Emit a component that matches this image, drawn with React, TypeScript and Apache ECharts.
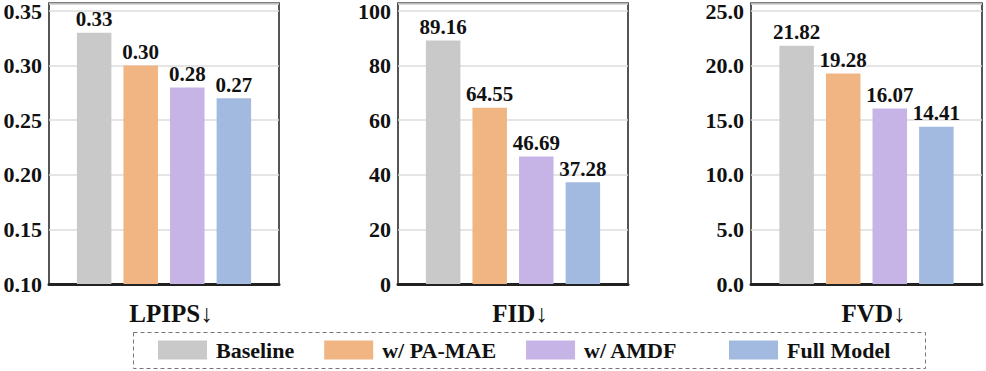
import React, { useEffect, useRef } from "react";
import * as echarts from "echarts";

const methods = ["Baseline", "w/ PA-MAE", "w/ AMDF", "Full Model"];
const colors = ["#c9c9c9", "#f0b583", "#c6b4e7", "#a3bae0"];
const metrics = ["LPIPS↓", "FID↓", "FVD↓"];
const lpipsValues = [0.33, 0.3, 0.28, 0.27];
const fidValues = [89.16, 64.55, 46.69, 37.28];
const fvdValues = [21.82, 19.28, 16.07, 14.41];
const allValues = [lpipsValues, fidValues, fvdValues];
const yMins = [0.1, 0, 0];
const yMaxs = [0.357, 102.8, 25.7];
const yIntervals = [0.05, 20, 5];
const yDecimals = [2, 0, 1];

const FONT = "Liberation Serif";

export default function App() {
  const ref = useRef<HTMLDivElement>(null);
  useEffect(() => {
    if (!ref.current) return;
    const chart = echarts.init(ref.current, undefined, { renderer: "svg" });
    const grids = [
      { left: 49, top: 3, width: 230, height: 281 },
      { left: 398, top: 3, width: 230, height: 281 },
      { left: 751, top: 3, width: 231, height: 281 },
    ];
    const series: any[] = [];
    allValues.forEach((vals, gi) => {
      methods.forEach((m, si) => {
        series.push({
          type: "bar",
          name: m,
          xAxisIndex: gi,
          yAxisIndex: gi,
          data: [vals[si]],
          barWidth: 34.5,
          barGap: "35%",
          itemStyle: { color: colors[si] },
          label: {
            show: true,
            position: "top",
            distance: 3,
            fontFamily: FONT,
            fontWeight: "bold",
            fontSize: 21,
            color: "#111",
            formatter: (p: any) => Number(p.value).toFixed(2),
          },
        });
      });
    });
    const legendText = {
      fontFamily: FONT,
      fontWeight: "bold",
      fontSize: 22,
      color: "#111",
      padding: [0, 0, 0, 4],
    };
    chart.setOption({
      animation: false,
      backgroundColor: "#fff",
      grid: grids.map((g) => ({
        ...g,
        show: true,
        borderColor: "#555",
        borderWidth: 2,
        backgroundColor: "transparent",
        containLabel: false,
      })),
      xAxis: metrics.map((name, gi) => ({
        type: "category",
        gridIndex: gi,
        data: [""],
        name,
        nameLocation: "middle",
        nameGap: 17,
        nameTextStyle: {
          fontFamily: FONT,
          fontWeight: "bold",
          fontSize: 25,
          color: "#111",
          padding: [0, 0, 0, 14],
        },
        axisLine: { show: true, lineStyle: { color: "#222", width: 3 } },
        axisTick: { show: false },
        axisLabel: { show: false },
      })),
      yAxis: metrics.map((_, gi) => ({
        type: "value",
        gridIndex: gi,
        min: yMins[gi],
        max: yMaxs[gi],
        interval: yIntervals[gi],
        axisLine: { show: false },
        axisTick: { show: false },
        splitLine: { show: true, lineStyle: { color: "#dcdcdc", width: 1.5 } },
        axisLabel: {
          showMaxLabel: false,
          margin: 7,
          fontFamily: FONT,
          fontWeight: "bold",
          fontSize: 22,
          color: "#111",
          formatter: (v: number) => v.toFixed(yDecimals[gi]),
        },
      })),
      legend: [
        {
          data: methods.slice(0, 3),
          left: 153,
          top: 334,
          icon: "rect",
          itemWidth: 49,
          itemHeight: 19,
          itemGap: 30,
          textStyle: legendText,
        },
        {
          data: methods.slice(3),
          left: 724,
          top: 334,
          icon: "rect",
          itemWidth: 49,
          itemHeight: 19,
          itemGap: 30,
          textStyle: legendText,
        },
      ],
      graphic: [
        {
          type: "rect",
          shape: { x: 133.5, y: 332.5, width: 792, height: 36 },
          style: { fill: "none", stroke: "#777", lineWidth: 1, lineDash: [4, 3] },
          silent: true,
        },
      ],
      series,
    });
    return () => chart.dispose();
  }, []);
  return (
    <div
      ref={ref}
      style={{ position: "fixed", left: 0, top: 0, width: 986, height: 371 }}
    />
  );
}
